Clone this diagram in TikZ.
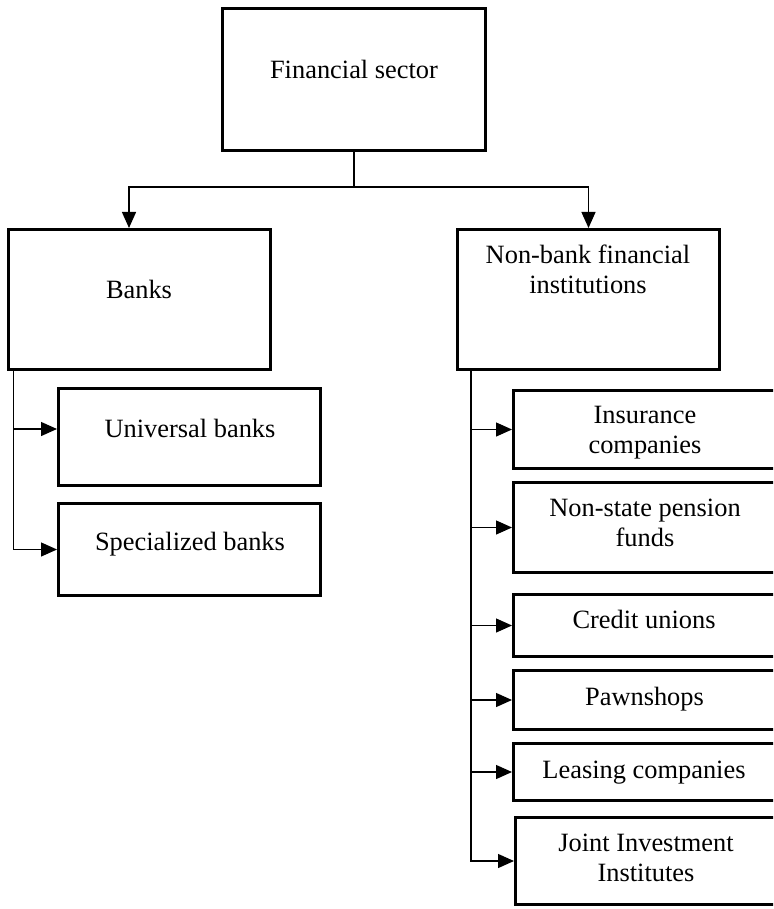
\documentclass[tikz,border=0pt]{standalone}
\usepackage{fontspec}
\setmainfont{Liberation Serif}
\usetikzlibrary{arrows.meta}
\begin{document}
\begin{tikzpicture}[x=1pt,y=-1pt,
  box/.style={draw, line width=3pt, inner sep=0pt, minimum width=262pt},
  lbl/.style={font=\fontsize{26.4}{30}\selectfont, inner sep=0pt, align=center, anchor=base},
  conn/.style={line width=1.3pt},
  arr/.style={line width=1.3pt, -{Triangle[length=16pt,width=14pt]}}]
\clip (0,0) rectangle (773,909);
% boxes
\node[box, minimum width=263pt, minimum height=142pt] (fs) at (354,79.5) {};
\node[box, minimum height=140pt] (banks) at (139.5,299.5) {};
\node[box, minimum height=140pt] (nb) at (588.5,299.5) {};
\node[box, minimum height=97pt] (univ) at (189.5,437) {};
\node[box, minimum height=92pt] (spec) at (189.5,549.5) {};
\node[box, minimum height=78pt] (ins) at (644.5,429.5) {};
\node[box, minimum height=90pt] (nons) at (644.5,527.5) {};
\node[box, minimum height=62pt] (cred) at (644.5,625.5) {};
\node[box, minimum height=59pt] (pawn) at (644.5,700) {};
\node[box, minimum height=57pt] (leas) at (644.5,772) {};
\node[box, minimum height=87pt] (joint) at (646.5,861) {};
% labels (anchor=base is the baseline of the last line)
\node[lbl] (tfs) at (354,79) {Financial sector};
\node[lbl] (tbanks) at (139,298) {Banks};
\node[lbl] (tnb) at (588,293) {Non-bank financial\\institutions};
\node[lbl] (tuniv) at (190,437) {Universal banks};
\node[lbl] (tspec) at (190,550) {Specialized banks};
\node[lbl] (tins) at (645,453) {Insurance\\companies};
\node[lbl] (tnons) at (645,546) {Non-state pension\\funds};
\node[lbl] (tcred) at (644,628) {Credit unions};
\node[lbl] (tpawn) at (644.5,705) {Pawnshops};
\node[lbl] (tleas) at (644,778) {Leasing companies};
\node[lbl] (tjoint) at (646,881) {Joint Investment\\Institutes};
% connectors
\coordinate (j) at (354,187);
\draw[conn] (fs.south) -- (j);
\draw[arr] (j) -| ([xshift=-10.5pt]banks.north);
\draw[arr] (j) -| (nb.north);
\coordinate (lb) at ([xshift=6.5pt]banks.south west);
\draw[arr] (lb) |- ([yshift=8pt]univ.west);
\draw[arr] (lb) |- (spec.west);
\coordinate (rb) at ([xshift=15pt]nb.south west);
\draw[arr] (rb) |- (ins.west);
\draw[arr] (rb) |- (nons.west);
\draw[arr] (rb) |- (cred.west);
\draw[arr] (rb) |- (pawn.west);
\draw[arr] (rb) |- (leas.west);
\draw[arr] (rb) |- (joint.west);
\end{tikzpicture}
\end{document}
